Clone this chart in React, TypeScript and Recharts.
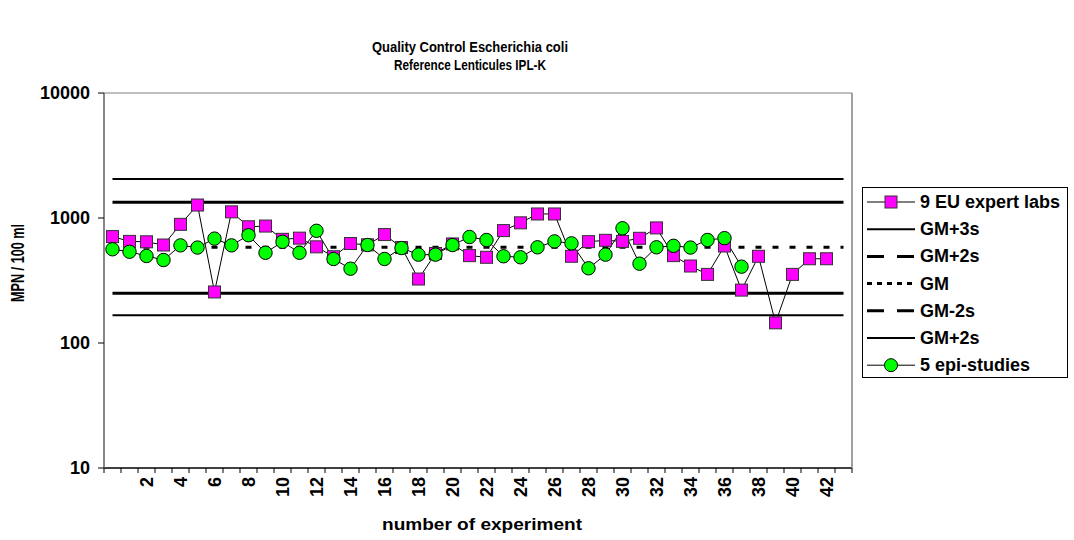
import React from 'react';
import { LineChart, Line, XAxis, YAxis } from 'recharts';

// experiment index (first category has no label)
const experiments = [
  0, 1, 2, 3, 4, 5, 6, 7, 8, 9, 10, 11, 12, 13, 14, 15, 16, 17, 18, 19, 20, 21,
  22, 23, 24, 25, 26, 27, 28, 29, 30, 31, 32, 33, 34, 35, 36, 37, 38, 39, 40, 41, 42, 43,
];
const xTickLabels = [2, 4, 6, 8, 10, 12, 14, 16, 18, 20, 22, 24, 26, 28, 30, 32, 34, 36, 38, 40, 42];
const yTicks = [10, 100, 1000, 10000];

// MPN / 100 ml
const euExpertLabs = [
  710, 650, 645, 608, 890, 1270, 256, 1120, 851, 862, 675, 690, 588, 490, 625, 610, 737, 580,
  325, 520, 620, 500, 485, 793, 915, 1077, 1077, 494, 647, 663, 650, 688, 833, 500, 413, 354,
  597, 265, 494, 145, 354, 472, 472,
];
const epiStudies = [
  562, 537, 497, 461, 604, 580, 684, 604, 728, 527, 645, 527, 790, 470, 393, 608, 470, 575,
  509, 509, 608, 705, 667, 494, 485, 583, 650, 627, 396, 509, 828, 431, 583, 599, 580, 667,
  690, 408,
];

// control limits
const gmPlus3s = 2050;
const gmPlus2s = 1335;
const gm = 583;
const gmMinus2s = 250;
const gmMinus3s = 167;

const data = experiments.map((x, i) => ({
  x,
  labs: euExpertLabs[i],
  epi: epiStudies[i],
  gm3: gmPlus3s,
  gm2: gmPlus2s,
  gm: gm,
  gmm2: gmMinus2s,
  gmm3: gmMinus3s,
}));

const boundaryTicks = experiments.map((x) => x - 0.5).concat([experiments.length - 0.5]);
const xDomain = [-0.5, experiments.length - 0.5];

const FONT = '"Liberation Sans", Arial, sans-serif';
const MAGENTA = '#FF00FF';
const GREEN = '#00FF00';

const SquareDot = (props: any) => {
  const { cx, cy, index } = props;
  if (cx == null || cy == null) return <g key={`s${index}`} />;
  return <rect key={`s${index}`} x={cx - 6} y={cy - 6} width={12} height={12} fill={MAGENTA} stroke="#333" strokeWidth={1} />;
};

const CircleDot = (props: any) => {
  const { cx, cy, index } = props;
  if (cx == null || cy == null) return <g key={`c${index}`} />;
  return <circle key={`c${index}`} cx={cx} cy={cy} r={6.7} fill={GREEN} stroke="#000" strokeWidth={1} />;
};

const EmptyTick = () => <g />;

const XTick = (props: any) => {
  const { x, y, payload } = props;
  return (
    <text
      x={x}
      y={y}
      transform={`rotate(-90, ${x}, ${y})`}
      textAnchor="end"
      dy="0.35em"
      fontFamily={FONT}
      fontWeight="bold"
      fontSize={18}
      fill="#000"
    >
      {payload.value}
    </text>
  );
};

const YTick = (props: any) => {
  const { x, y, payload } = props;
  return (
    <text x={x} y={y} textAnchor="end" dy="0.35em" fontFamily={FONT} fontWeight="bold" fontSize={18} fill="#000">
      {payload.value}
    </text>
  );
};

const legendItems = [
  { name: '9 EU expert labs', kind: 'square' },
  { name: 'GM+3s', kind: 'solid' },
  { name: 'GM+2s', kind: 'dash' },
  { name: 'GM', kind: 'dot' },
  { name: 'GM-2s', kind: 'dash' },
  { name: 'GM+2s', kind: 'solid' },
  { name: '5 epi-studies', kind: 'circle' },
];

const Overlay = () => (
  <svg width={1074} height={540} style={{ position: 'absolute', left: 0, top: 0, pointerEvents: 'none' }}>
    <g fontFamily={FONT} fontWeight="bold" fill="#000">
      <text
        x={470}
        y={47}
        textAnchor="middle"
        dominantBaseline="central"
        fontSize={14.5}
        textLength={196}
        lengthAdjust="spacingAndGlyphs"
      >
        Quality Control Escherichia coli
      </text>
      <text
        x={470}
        y={65}
        textAnchor="middle"
        dominantBaseline="central"
        fontSize={14.5}
        textLength={152}
        lengthAdjust="spacingAndGlyphs"
      >
        Reference Lenticules IPL-K
      </text>
      <text
        x={18}
        y={263}
        transform="rotate(-90, 18, 263)"
        textAnchor="middle"
        dominantBaseline="central"
        fontSize={18}
        textLength={78}
        lengthAdjust="spacingAndGlyphs"
      >
        MPN / 100 ml
      </text>
      <text
        x={482}
        y={524}
        textAnchor="middle"
        dominantBaseline="central"
        fontSize={17}
        textLength={200}
        lengthAdjust="spacingAndGlyphs"
      >
        number of experiment
      </text>
    </g>
    <rect x={862.5} y={187.5} width={205} height={190} fill="#fff" stroke="#000" strokeWidth={1} />
    {legendItems.map((item, i) => {
      const cy = 202 + i * 27.2;
      return (
        <g key={i}>
          {item.kind === 'square' || item.kind === 'circle' ? (
            <line x1={867} x2={915} y1={cy} y2={cy} stroke="#000" strokeWidth={1} />
          ) : null}
          {item.kind === 'solid' ? <line x1={867} x2={915} y1={cy} y2={cy} stroke="#000" strokeWidth={2} /> : null}
          {item.kind === 'dash' ? (
            <line x1={867} x2={915} y1={cy} y2={cy} stroke="#000" strokeWidth={3} strokeDasharray="17 13" />
          ) : null}
          {item.kind === 'dot' ? (
            <line x1={867} x2={915} y1={cy} y2={cy} stroke="#000" strokeWidth={3} strokeDasharray="5 5" />
          ) : null}
          {item.kind === 'square' ? (
            <rect x={885} y={cy - 6} width={12} height={12} fill={MAGENTA} stroke="#333" />
          ) : null}
          {item.kind === 'circle' ? <circle cx={891} cy={cy} r={6.5} fill={GREEN} stroke="#000" /> : null}
          <text x={920} y={cy} dominantBaseline="central" fontFamily={FONT} fontWeight="bold" fontSize={18} fill="#000">
            {item.name}
          </text>
        </g>
      );
    })}
  </svg>
);

export default function App() {
  return (
    <div style={{ position: 'absolute', left: 0, top: 0, width: 1074, height: 540, background: '#fff' }}>
      <LineChart width={1074} height={540} data={data} margin={{ top: 92, right: 221, bottom: 0, left: 0 }}>
        <XAxis
          xAxisId="axisA"
          dataKey="x"
          type="number"
          domain={xDomain}
          ticks={boundaryTicks}
          height={1}
          tick={<EmptyTick />}
          tickSize={5}
          tickLine={{ stroke: '#000' }}
          axisLine={{ stroke: '#000', strokeWidth: 1.5 }}
          interval={0}
          allowDataOverflow
        />
        <XAxis
          xAxisId="axisB"
          dataKey="x"
          type="number"
          domain={xDomain}
          ticks={xTickLabels}
          height={71}
          tick={<XTick />}
          tickLine={false}
          axisLine={false}
          interval={0}
          allowDataOverflow
        />
        <XAxis
          xAxisId="top"
          dataKey="x"
          type="number"
          domain={xDomain}
          orientation="top"
          height={1}
          tick={false}
          tickLine={false}
          axisLine={{ stroke: '#808080' }}
          allowDataOverflow
        />
        <YAxis
          yAxisId="left"
          scale="log"
          type="number"
          domain={[10, 10000]}
          ticks={yTicks}
          width={104}
          tick={<YTick />}
          tickSize={6}
          tickMargin={8}
          tickLine={{ stroke: '#000' }}
          axisLine={{ stroke: '#606060', strokeWidth: 1.5 }}
          interval={0}
          allowDataOverflow
        />
        <YAxis
          yAxisId="right"
          orientation="right"
          scale="log"
          type="number"
          domain={[10, 10000]}
          width={1}
          tick={false}
          tickLine={false}
          axisLine={{ stroke: '#808080', strokeWidth: 1.5 }}
          allowDataOverflow
        />
        <Line xAxisId="top" yAxisId="right" dataKey="gm3" stroke="#000" strokeWidth={2} dot={false} isAnimationActive={false} />
        <Line xAxisId="axisA" yAxisId="left" dataKey="gm2" stroke="#000" strokeWidth={3} dot={false} isAnimationActive={false} />
        <Line
          xAxisId="axisA"
          yAxisId="left"
          dataKey="gm"
          stroke="#000"
          strokeWidth={3}
          strokeDasharray="6 11"
          strokeDashoffset={3}
          dot={false}
          isAnimationActive={false}
        />
        <Line xAxisId="axisA" yAxisId="left" dataKey="gmm2" stroke="#000" strokeWidth={3} dot={false} isAnimationActive={false} />
        <Line xAxisId="axisB" yAxisId="left" dataKey="gmm3" stroke="#000" strokeWidth={2} dot={false} isAnimationActive={false} />
        <Line
          xAxisId="axisA"
          yAxisId="left"
          dataKey="labs"
          stroke="#000"
          strokeWidth={1}
          dot={SquareDot}
          connectNulls={false}
          isAnimationActive={false}
        />
        <Line
          xAxisId="axisA"
          yAxisId="left"
          dataKey="epi"
          stroke="#000"
          strokeWidth={1}
          dot={CircleDot}
          isAnimationActive={false}
        />
      </LineChart>
      <Overlay />
    </div>
  );
}
